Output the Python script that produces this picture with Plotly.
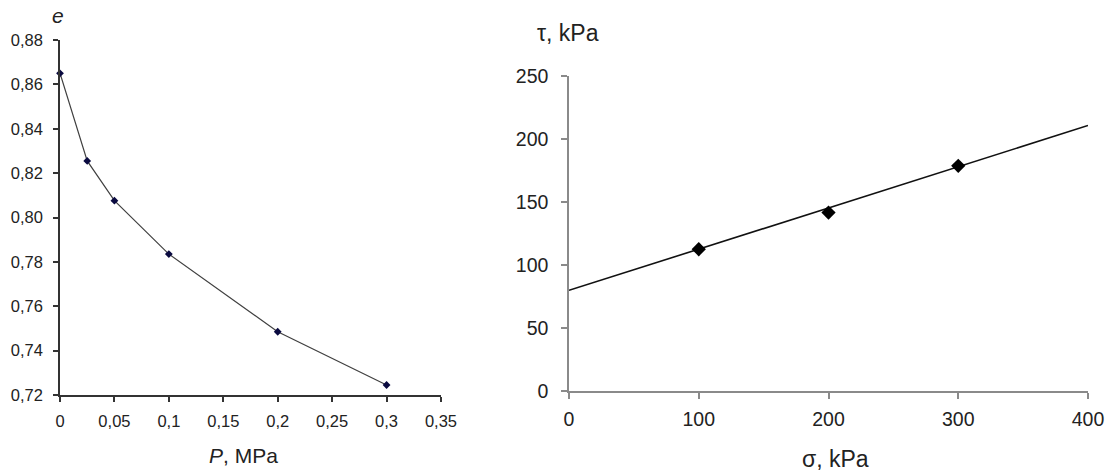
import numpy as np
import plotly.graph_objects as go

# Left chart: compression curve
P_mpa = [0.0, 0.025, 0.05, 0.1, 0.2, 0.3]
e_void = [0.865, 0.8255, 0.8076, 0.7835, 0.7485, 0.7245]
left_xticks = [0, 0.05, 0.1, 0.15, 0.2, 0.25, 0.3, 0.35]
left_xtext = ["0", "0,05", "0,1", "0,15", "0,2", "0,25", "0,3", "0,35"]
left_yticks = [0.72, 0.74, 0.76, 0.78, 0.80, 0.82, 0.84, 0.86, 0.88]
left_ytext = ["0,72", "0,74", "0,76", "0,78", "0,80", "0,82", "0,84", "0,86", "0,88"]

# Right chart: shear strength
sigma_kpa = [100, 200, 300]
tau_kpa = [112.5, 141.6, 178.7]
trend_slope = 0.327
trend_intercept = 79.9
right_xticks = [0, 100, 200, 300, 400]
right_yticks = [0, 50, 100, 150, 200, 250]

W, H = 1108, 472

def px(x):
    return x / W

def py(y):
    return (H - y) / H

fig = go.Figure()

fig.add_trace(go.Scatter(
    x=P_mpa, y=e_void, mode="lines+markers",
    line=dict(color="#404040", width=1.2),
    marker=dict(symbol="diamond", size=6, color="#0a0a40"),
    xaxis="x", yaxis="y", showlegend=False, cliponaxis=False,
))

trend_x = np.array([right_xticks[0], right_xticks[-1]], dtype=float)
trend_y = trend_intercept + trend_slope * trend_x
fig.add_trace(go.Scatter(
    x=trend_x, y=trend_y, mode="lines",
    line=dict(color="#111111", width=1.6),
    xaxis="x2", yaxis="y2", showlegend=False, cliponaxis=False,
))
fig.add_trace(go.Scatter(
    x=sigma_kpa, y=tau_kpa, mode="markers",
    marker=dict(symbol="diamond", size=11, color="#000000"),
    xaxis="x2", yaxis="y2", showlegend=False, cliponaxis=False,
))

left_font = dict(family="Liberation Sans, Arial, sans-serif", size=16.5, color="#222222")
right_font = dict(family="Liberation Sans, Arial, sans-serif", size=19.5, color="#222222")
title_family = "Liberation Sans, Arial, sans-serif"

common = dict(showgrid=False, zeroline=False, showline=True, linewidth=1.5,
              ticks="outside", tickwidth=1.5, automargin=False)

fig.update_layout(
    width=W, height=H,
    margin=dict(l=0, r=0, t=0, b=0, autoexpand=False),
    paper_bgcolor="white", plot_bgcolor="white",
    xaxis=dict(
        domain=[px(60), px(441)], anchor="y", range=[0, 0.35],
        tickvals=left_xticks, ticktext=left_xtext,
        linecolor="#333333", ticklen=5, tickcolor="#333333",
        ticklabelstandoff=5,
        tickfont=left_font, **common,
    ),
    yaxis=dict(
        domain=[py(395), py(40)], anchor="x", range=[0.72, 0.88],
        tickvals=left_yticks, ticktext=left_ytext,
        linecolor="#333333", ticklen=5, tickcolor="#333333",
        ticklabelstandoff=7,
        tickfont=left_font, **common,
    ),
    xaxis2=dict(
        domain=[px(569), px(1088)], anchor="y2", range=[0, 400],
        tickvals=right_xticks,
        linecolor="#8a8a8a", ticklen=6, tickcolor="#8a8a8a",
        ticklabelstandoff=4,
        tickfont=right_font, **common,
    ),
    yaxis2=dict(
        domain=[py(391), py(76)], anchor="x2", range=[0, 250],
        tickvals=right_yticks,
        linecolor="#8a8a8a", ticklen=6, tickcolor="#8a8a8a",
        ticklabelstandoff=9,
        tickfont=right_font, **common,
    ),
    annotations=[
        dict(text="<i>e</i>", x=px(57.5), y=py(15), xref="paper", yref="paper",
             showarrow=False, xanchor="center", yanchor="middle",
             font=dict(family=title_family, size=21, color="#222222")),
        dict(text="<i>P</i>, MPa", x=px(243), y=py(455), xref="paper", yref="paper",
             showarrow=False, xanchor="center", yanchor="middle",
             font=dict(family=title_family, size=21, color="#222222")),
        dict(text="τ, kPa", x=px(535), y=py(33), xref="paper", yref="paper",
             showarrow=False, xanchor="left", yanchor="middle",
             font=dict(family=title_family, size=23, color="#222222")),
        dict(text="σ, kPa", x=px(835), y=py(459), xref="paper", yref="paper",
             showarrow=False, xanchor="center", yanchor="middle",
             font=dict(family=title_family, size=23, color="#222222")),
    ],
)

fig.write_html(
    "out.html",
    config={"displayModeBar": False},
    post_script="document.body.style.margin='0px';document.body.style.overflow='hidden';",
)
